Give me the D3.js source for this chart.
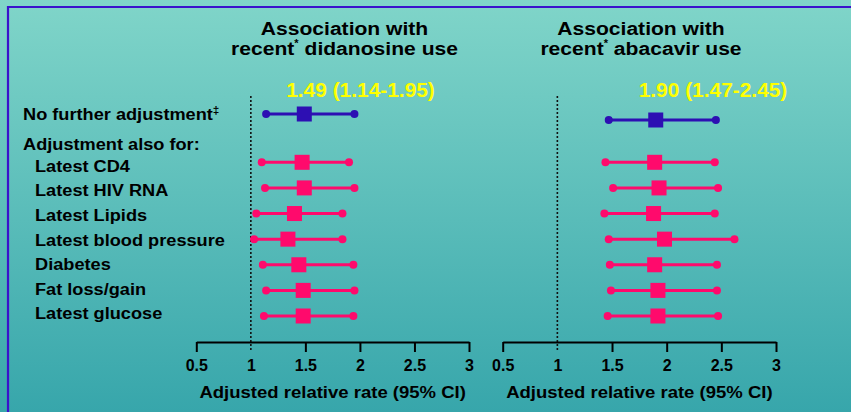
<!DOCTYPE html>
<html><head><meta charset="utf-8">
<script src="https://cdn.jsdelivr.net/npm/d3@7"></script>
<style>
html,body{margin:0;padding:0;}
svg{display:block;font-family:Arial,"Liberation Sans",sans-serif;font-weight:bold;}
</style></head>
<body>
<svg id="c" width="851" height="412"></svg>
<script>
// ---- data ----
const rowLabels = ["Latest CD4","Latest HIV RNA","Latest Lipids","Latest blood pressure","Diabetes","Fat loss/gain","Latest glucose"];
const tickValues = [0.5,1,1.5,2,2.5,3];
const tickLabels = ["0.5","1","1.5","2","2.5","3"];
// unadjusted (top row)
const ddiTop = {est:1.49, lo:1.14, hi:1.95};
const abcTop = {est:1.90, lo:1.47, hi:2.45};
const ddiTopLabel = "1.49 (1.14-1.95)";
const abcTopLabel = "1.90 (1.47-2.45)";
// adjusted rows
const ddiEst = [1.47,1.49,1.40,1.34,1.44,1.48,1.48];
const ddiLo  = [1.10,1.13,1.05,1.03,1.11,1.14,1.12];
const ddiHi  = [1.90,1.95,1.84,1.84,1.94,1.95,1.94];
const abcEst = [1.89,1.93,1.88,1.98,1.89,1.92,1.92];
const abcLo  = [1.44,1.51,1.43,1.47,1.48,1.49,1.46];
const abcHi  = [2.44,2.47,2.44,2.62,2.46,2.46,2.47];

const svg = d3.select("#c");
const W = 851, H = 412;

// background gradient
const defs = svg.append("defs");
const g = defs.append("linearGradient").attr("id","bg").attr("x1",0).attr("y1",0).attr("x2",0).attr("y2",1);
g.append("stop").attr("offset","0%").attr("stop-color","#80d5c9");
g.append("stop").attr("offset","100%").attr("stop-color","#37a6ab");
svg.append("rect").attr("width",W).attr("height",H).attr("fill","url(#bg)");
// frame
svg.append("path").attr("d",`M8,${H} V7 H${W}`).attr("fill","none").attr("stroke","#3a12cc").attr("stroke-width",2.2);

const pink = "#ff0a6c", blue = "#2d0fb3";

// text placed at (x,y) with horizontal stretch
function stext(parent, x, y, size, sx, anchor){
  return parent.append("g").attr("transform",`translate(${x},${y}) scale(${sx},1)`)
    .append("text").attr("x",0).attr("y",0).attr("text-anchor",anchor).attr("font-size",size).attr("fill","#000");
}

const panels = [
  {title:["Association with","recent"," didanosine use"], cx:344.5, range:[196.3,469], top:ddiTop, topLabel:ddiTopLabel, labX:360.5, topY:114, est:ddiEst, lo:ddiLo, hi:ddiHi},
  {title:["Association with","recent"," abacavir use"], cx:641, range:[502.7,776], top:abcTop, topLabel:abcTopLabel, labX:713, topY:120, est:abcEst, lo:abcLo, hi:abcHi}
];

const yRow = d3.scalePoint().domain(rowLabels).range([162.3,316]);
const yLab = d3.scalePoint().domain(rowLabels).range([165.7,313.3]);
const axisY = 342;

panels.forEach(p => {
  const x = d3.scaleLinear().domain([0.5,3]).range(p.range);
  const gp = svg.append("g");
  // title
  stext(gp, p.cx, 35, 19, 1.11, "middle").text(p.title[0]);
  const t2 = stext(gp, p.cx, 55, 19, 1.11, "middle");
  t2.append("tspan").text(p.title[1]);
  t2.append("tspan").attr("font-size",10).attr("dy",-8).text("*");
  t2.append("tspan").attr("dy",8).text(p.title[2]);
  // yellow estimate label
  stext(gp, p.labX, 96.5, 20.5, 1.02, "middle").attr("fill","#ffff00").text(p.topLabel);
  // reference dotted line at 1
  gp.append("line").attr("x1",x(1)).attr("x2",x(1)).attr("y1",96).attr("y2",351)
    .attr("stroke","#111").attr("stroke-width",1.6).attr("stroke-dasharray","2,2");
  // axis
  const ax = gp.append("g").attr("transform",`translate(0,${axisY})`)
    .call(d3.axisBottom(x).tickValues(tickValues).tickFormat((d,i)=>tickLabels[i]).tickSize(10).tickSizeOuter(0).tickPadding(8));
  ax.select(".domain").attr("stroke","#000").attr("stroke-width",2);
  ax.selectAll(".tick line").attr("stroke","#000").attr("stroke-width",2).attr("opacity",d=>d===1?0:1);
  ax.selectAll(".tick text").attr("font-size",16).attr("font-family","Arial,'Liberation Sans',sans-serif").attr("font-weight","bold").attr("fill","#000");
  stext(gp, (p.range[0]+p.range[1])/2, 398, 17.2, 1.077, "middle").text("Adjusted relative rate (95% CI)");
  // top row
  const top = gp.append("g");
  top.append("line").attr("x1",x(p.top.lo)).attr("x2",x(p.top.hi)).attr("y1",p.topY).attr("y2",p.topY).attr("stroke",blue).attr("stroke-width",3);
  [p.top.lo,p.top.hi].forEach(v=>top.append("circle").attr("cx",x(v)).attr("cy",p.topY).attr("r",4).attr("fill",blue));
  top.append("rect").attr("x",x(p.top.est)-7.5).attr("y",p.topY-7.5).attr("width",15).attr("height",15).attr("fill",blue);
  // adjusted rows
  const rows = gp.selectAll("g.row").data(rowLabels).join("g").attr("class","row");
  rows.append("line").attr("x1",(d,i)=>x(p.lo[i])).attr("x2",(d,i)=>x(p.hi[i])).attr("y1",d=>yRow(d)).attr("y2",d=>yRow(d)).attr("stroke",pink).attr("stroke-width",3);
  rows.append("circle").attr("cx",(d,i)=>x(p.lo[i])).attr("cy",d=>yRow(d)).attr("r",4).attr("fill",pink);
  rows.append("circle").attr("cx",(d,i)=>x(p.hi[i])).attr("cy",d=>yRow(d)).attr("r",4).attr("fill",pink);
  rows.append("rect").attr("x",(d,i)=>x(p.est[i])-7.5).attr("y",d=>yRow(d)-7.5).attr("width",15).attr("height",15).attr("fill",pink);
});

// row labels
const lab = svg.append("g");
const nf = stext(lab, 23, 119.5, 17, 1.07, "start");
nf.append("tspan").text("No further adjustment");
nf.append("tspan").attr("font-size",11).attr("dy",-6).text("‡");
stext(lab, 23, 150, 17, 1.07, "start").text("Adjustment also for:");
rowLabels.forEach(d => stext(lab, 35, yLab(d)+6, 17, 1.07, "start").text(d));
</script>
</body></html>
